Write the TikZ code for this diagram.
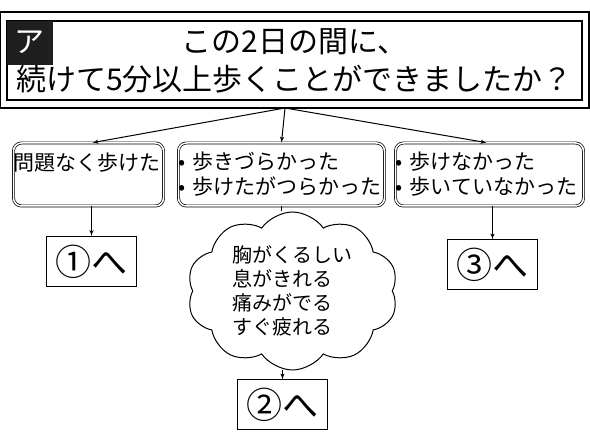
\documentclass[tikz,border=0pt]{standalone}
\usepackage{fontspec}
\setmainfont{Noto Sans CJK JP}
\usepackage{tikz}
\usetikzlibrary{arrows,positioning,shapes.symbols}

\begin{document}
\begin{tikzpicture}[>=latex', x=1pt, y=-1pt]
      \tikzset{
	  qbox/.style={draw, line width=1.2pt, minimum width=575pt, minimum height=79pt, inner sep=0pt, align=center, font=\fontsize{30}{38}\selectfont},
	  tag/.style={fill=black!88, text=white, anchor=north west, minimum width=46pt, minimum height=44pt, inner sep=0pt, font=\fontsize{30}{30}\selectfont},
	  answer/.style={draw, double, double distance=1.5pt, line width=0.7pt, rounded corners=8pt, minimum height=63pt, inner sep=0pt, align=left, font=\fontsize{21}{25}\selectfont},
	  goto/.style={draw, line width=1pt, minimum width=90pt, minimum height=50pt, inner sep=0pt, font=\fontsize{36}{36}\selectfont},
	  worry/.style={cloud, draw, line width=1pt, cloud puffs=10, cloud puff arc=110, aspect=1.35, inner sep=-4pt, minimum width=211pt, minimum height=158pt, align=left, font=\fontsize{20}{24}\selectfont},
	  link/.style={line width=1pt},
      }
      \useasboundingbox (0,0) rectangle (590,443);

      \node (q) at (294.5,60.5) [qbox] {この2日の間に、\\続けて5分以上歩くことができましたか？};
      \draw [line width=2pt] ([shift={(-6pt,8pt)}]q.north west) rectangle ([shift={(6pt,-7pt)}]q.south east);
      \node (qa) at (q.north west) [tag] {ア};
      \coordinate (hub) at (285,108);

      \node (ok) at (88.5,174.5) [answer, text width=150pt] {問題なく歩けた\\\mbox{}};
      \node (hard) at (281.5,174.5) [answer, text width=206pt] {• 歩きづらかった\\• 歩けたがつらかった};
      \node (cant) at (489.5,174.5) [answer, text width=188pt] {• 歩けなかった\\• 歩いていなかった};

      \draw [link,->] (hub) -- ([xshift=4pt]ok.north);
      \draw [link,->] (hub) -- (hard.north);
      \draw [link,->] (hub) -- ([xshift=-3pt]cant.north);

      \node (g1) at (91.5,261.5) [goto] {①へ};
      \node (sym) at (292.5,291) [worry] {胸がくるしい\\息がきれる\\痛みがでる\\すぐ疲れる};
      \node (g2) at (282.5,405) [goto] {②へ};
      \node (g3) at (492.5,265) [goto] {③へ};

      \draw [link,->] (g1.north |- ok.south) -- (g1.north);
      \draw [link] (hard.south) -- (hard.south |- sym.north);
      \draw [link,->] (g2.north |- sym.south) -- (g2.north);
      \draw [link,->] (g3.north |- cant.south) -- (g3.north);
    \end{tikzpicture}
\end{document}
